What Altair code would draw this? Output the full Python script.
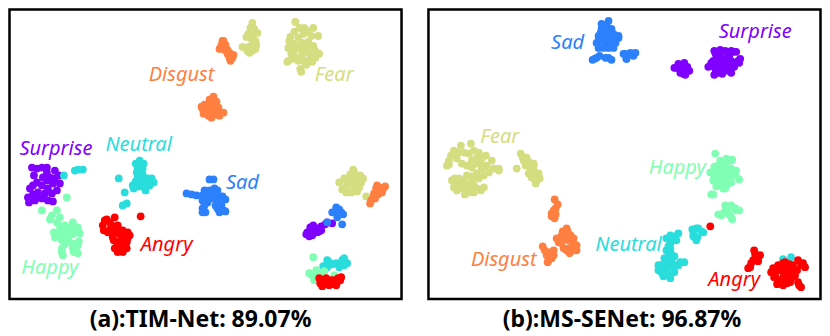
import altair as alt
import pandas as pd

CLASSES = ["Surprise", "Sad", "Neutral", "Happy", "Fear", "Disgust", "Angry"]
COLORS = ["#8000ff", "#2c80fb", "#2adddd", "#80ffb4", "#d4dd80", "#ff7f41", "#ff0000"]

A_POINTS = {
    "Surprise": [(32,167),(37,168),(42,167),(47,167),(55,170),(59,175),(34,175),(43,177),(50,177),(53,183),(60,183),(33,185),(42,185),(48,188),(57,190),(30,188),(38,192),(45,193),(28,197),(37,197),(42,198),(29,202),(35,200),(48,200),(53,201),(47,180),(55,178),(47,172),(37,182),(52,193),(33,194),
                 (333,223),(322,226),(317,228),(308,232),(313,235),(307,234),(312,230),(318,232),(326,224),(316,232),(310,236),(322,230),(328,222),(314,225),(320,231),(311,227)],
    "Sad": [(187,193),(192,194),(197,195),(203,195),(207,191),(210,190),(215,188),(203,200),(205,205),(203,208),(206,212),(214,193),(218,195),(223,196),(226,199),(218,201),(222,204),(218,208),(220,212),(224,210),(226,211),(210,179),(214,179),(206,197),(211,197),(203,212),(218,190),(208,202),(205,190),(222,208),(216,205),(213,198),
            (337,207),(333,212),(342,212),(328,222),(343,224),(338,217),(336,212),(340,209),(344,214)],
    "Neutral": [(64,175),(75,170),(78,169),(83,169),(119,178),(125,192),(127,203),(123,205),(136,163),(140,160),(144,163),(138,167),(143,168),(137,172),(143,174),(138,177),(133,185),(135,185),(140,186),(145,187),(150,185),(154,182),(148,178),(152,178),(146,190),(141,182),(136,181),(147,184),(150,181),(142,178),(140,172),(134,188),
                (328,260),(328,267),(337,263),(343,260),(348,263),(340,267),(333,264),(345,265),(324,266),(330,262),(345,258)],
    "Happy": [(42,210),(67,197),(57,210),(50,219),(57,222),(65,225),(73,222),(78,227),(80,233),(72,232),(65,233),(58,232),(55,237),(62,240),(68,238),(62,248),(63,255),(78,245),(73,248),(78,253),(74,252),(62,228),(72,243),(52,215),(60,217),(69,229),(60,226),(76,231),(70,227),(54,232),(60,236),(65,244),(62,252),(76,249),(79,241),(73,234),
              (314,257),(313,275),(320,273),(325,271),(315,280),(335,275),(317,270),(320,278),(310,273),(316,276)],
    "Fear": [(253,22),(251,27),(255,28),(249,33),(254,33),(258,32),(247,36),(252,38),(256,40),(253,44),(257,44),(249,46),(243,46),(248,50),(253,50),(256,48),(250,52),
             (296,21),(295,31),(291,36),(300,27),(305,27),(308,30),(314,27),(319,35),(312,35),(304,33),(299,37),(290,40),(294,43),(289,47),(298,45),(303,42),(309,41),(314,45),(296,48),(302,49),(307,47),(292,53),(296,56),(303,54),(310,52),(316,50),(320,53),(316,57),(311,58),(306,60),(289,60),(294,58),(299,60),(288,61),(307,64),(301,68),(302,71),(306,62),(313,61),
             (354,169),(340,182),(357,177),(362,182),(347,192),(355,188),(360,187),(348,183),(352,178),(367,196),(355,172),(352,184),(358,184),(346,188),(345,178),(351,174),(364,178),(361,175),(343,189),(352,192),(358,191)],
    "Disgust": [(223,40),(220,48),(228,49),(230,57),(233,57),(231,60),(226,44),(230,52),(222,44),(224,40),(225,49),(228,53),(234,54),
                (214,96),(210,99),(217,101),(205,104),(212,105),(219,107),(203,108),(207,110),(214,110),(221,112),(224,112),(204,113),(209,115),(215,114),(220,115),(212,117),(206,112),(202,106),
                (378,185),(384,188),(375,193),(372,200),(377,188),(380,187),(374,197),(386,186),(383,192),(379,194),(371,203),(376,198)],
    "Angry": [(107,219),(115,217),(103,225),(118,225),(108,232),(115,232),(123,230),(130,235),(127,242),(117,242),(122,238),(118,252),(127,248),(120,247),(141,216),(112,225),(110,222),(125,235),(122,245),(105,220),(111,228),(104,230),(119,230),(113,237),(120,234),(128,238),(125,244),(114,240),(115,248),(123,252),(128,232),
              (323,280),(323,286),(330,285),(337,285),(339,278),(332,280),(327,278),(335,280),(327,284),(334,284),(320,278),(321,283),(341,280),(338,282),(342,277)],
}

B_POINTS = {
    "Surprise": [(678,67),(685,65),(688,70),(685,73),(682,68),(676,67),(680,63),(689,66),(691,70),(687,74),(682,72),(686,62),
                 (717,52),(722,52),(727,50),(735,51),(740,60),(712,65),(715,60),(722,58),(728,57),(720,72),(730,70),(723,65),(733,65),(737,62),(717,68),(718,55),(731,55),(725,70),(715,65),(728,62),(713,62),(710,66),(716,74),(724,73),(733,72),(736,66),(741,62),(742,58),(738,51),(733,50),(722,49),(716,50),(725,60),(720,62),(733,60),(727,66)],
    "Sad": [(610,20),(603,23),(613,28),(602,32),(608,33),(618,37),(600,40),(608,42),(617,42),(600,47),(615,47),(598,57),(596,58),(610,57),(613,59),(607,57),(625,53),(628,58),(620,37),(627,53),(632,52),(637,52),(628,58),(635,55),(606,27),(611,37),(605,47),(610,47),(606,37),(600,35),(604,40),(612,42),(603,28),(608,24),(598,42),(615,33),(620,35),(594,59),(601,55)],
    "Neutral": [(698,228),(695,233),(703,231),(699,237),(672,235),(677,236),(672,243),(670,257),(682,262),(663,265),(670,265),(677,265),(663,272),(670,275),(675,268),(793,257),(785,259),(673,239),(668,270),(667,262),(668,250),(672,252),(666,258),(673,260),(660,265),(660,270),(665,276),(672,278),(676,272),(680,265),(686,262),(676,256),(672,248),(668,238),(680,233),(678,240),(670,246),(694,229),(705,232),(700,228),(698,240),(695,236)],
    "Happy": [(717,153),(733,160),(727,163),(720,165),(718,170),(733,168),(737,175),(741,179),(715,180),(725,177),(725,188),(730,183),(720,183),(715,194),(730,207),(738,210),(733,217),(723,215),(728,210),(725,170),(722,175),(731,175),(718,176),(713,194),(728,158),(734,159),(722,160),(716,166),(712,172),(716,175),(730,172),(728,166),(738,170),(728,178),(723,183),(719,178),(722,168),(727,188),(733,182),(718,186),(720,214),(727,205),(733,205),(737,208),(741,210),(731,214),(734,219),(726,212)],
    "Fear": [(462,145),(455,150),(450,160),(472,143),(470,153),(480,152),(463,163),(473,160),(487,155),(493,160),(482,163),(488,165),(500,168),(450,164),(473,167),(483,168),(490,172),(500,170),(478,173),(456,178),(457,185),(465,180),(462,188),(470,192),(475,185),(482,190),(470,185),(459,152),(477,158),(468,175),(461,183),(465,152),(458,158),(452,155),(448,165),(475,150),(483,158),(478,163),(468,165),(495,168),(485,175),(473,176),(480,178),(453,180),(455,187),(460,178),(463,184),(468,188),(473,180),(478,188),(485,187),(475,192),(466,194),(458,190),
             (522,153),(528,157),(535,163),(518,168),(527,165),(535,170),(540,173),(530,173),(538,180),(535,165),(531,162),(535,178),(525,160),(532,170),(533,177),(536,175),(530,165),(541,178),(537,183),(524,157)],
    "Disgust": [(556,199),(557,208),(553,213),(556,218),(555,210),(553,216),(559,204),(557,214),(569,231),(563,235),(575,243),(563,243),(568,250),(575,250),(570,240),(544,246),(552,252),(555,255),(550,260),(548,255),(568,236),(573,247),(551,257),(564,231),(558,238),(560,242),(566,238),(572,235),(575,238),(578,245),(578,250),(571,253),(565,248),(570,248),(561,240),(568,228),(546,250),(553,258),(555,250),(550,252),(549,262)],
    "Angry": [(712,226),(758,255),(755,260),(752,267),(760,257),(753,263),(762,255),(760,261),(756,250),(757,254),(750,268),(785,263),(777,270),(787,273),(795,270),(803,265),(797,275),(780,280),(790,280),(783,283),(792,282),(801,285),(787,268),(777,275),(791,264),(782,270),(792,275),(785,277),(775,268),(773,272),(780,265),(790,266),(795,265),(800,260),(805,263),(807,267),(799,270),(794,277),(787,262),(779,284),(785,285),(789,283),(776,277),(800,282),(803,287),(783,266),(790,270)],
}

A_LABELS = {"Disgust": (182,74), "Fear": (335,74), "Surprise": (56,148), "Neutral": (139,144), "Sad": (243,183), "Angry": (167,245), "Happy": (50,268)}
B_LABELS = {"Sad": (569,42), "Surprise": (757,31), "Fear": (501,136), "Happy": (679,167), "Disgust": (505,260), "Neutral": (630,245), "Angry": (736,280)}

FRAMES = [(9.5, 402.5), (429.5, 822.5)]
FRAME_TOP, FRAME_BOTTOM = 8.5, 299
CAPTIONS = ["(a):TIM-Net: 89.07%", "(b):MS-SENet: 96.87%"]
CAPTION_X = [201, 623.5]
CAPTION_Y = 320

pts = pd.DataFrame([
    {"cls": c, "order": i, "x": p[0], "y": p[1]}
    for points in (A_POINTS, B_POINTS)
    for i, c in enumerate(CLASSES) for p in points[c]
])
lab = pd.DataFrame([{"cls": c, "x": v[0], "y": v[1]} for labels in (A_LABELS, B_LABELS) for c, v in labels.items()])
frm = pd.DataFrame([{"x": a, "x2": b, "y": FRAME_TOP, "y2": FRAME_BOTTOM} for a, b in FRAMES])
cap = pd.DataFrame({"x": CAPTION_X, "y": [CAPTION_Y, CAPTION_Y], "t": CAPTIONS})

x = alt.X("x:Q", scale=alt.Scale(domain=[8, 822], nice=False, zero=False), axis=None)
y = alt.Y("y:Q", scale=alt.Scale(domain=[334, 8], nice=False, zero=False), axis=None)
color = alt.Color("cls:N", scale=alt.Scale(domain=CLASSES, range=COLORS), legend=None)

frames = alt.Chart(frm).mark_rect(fillOpacity=0, stroke="#000000", strokeWidth=2.5).encode(
    x=x, x2="x2:Q", y=y, y2="y2:Q")
circles = alt.Chart(pts).mark_circle(size=60, opacity=1).encode(x=x, y=y, color=color, order="order:Q")
texts = alt.Chart(lab).mark_text(font="Noto Sans", fontSize=20, fontStyle="italic", align="center", baseline="middle").encode(
    x=x, y=y, color=color, text="cls:N")
captions = alt.Chart(cap).mark_text(font="Noto Sans", fontSize=23, fontWeight="bold", color="#000000",
                                    align="center", baseline="middle").encode(x=x, y=y, text="t:N")

chart = alt.layer(circles, texts, frames, captions).properties(
    width=814, height=326, padding=0, background="#ffffff",
    autosize=alt.AutoSizeParams(type="fit", contains="padding"),
).configure_view(stroke=None)

chart.save("out.html", embed_options={"renderer": "svg", "actions": False})
